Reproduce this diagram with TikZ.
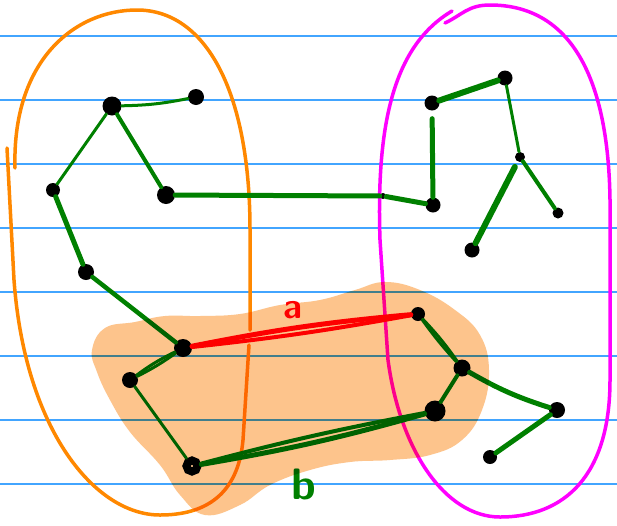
\documentclass[tikz,border=0pt]{standalone}
\usepackage{tikz}
\usetikzlibrary{positioning}
\definecolor{ruleblue}{RGB}{66,165,255}
\definecolor{penorange}{RGB}{255,136,0}
\definecolor{penmagenta}{RGB}{255,0,255}
\definecolor{pengreen}{RGB}{0,128,0}
\definecolor{penred}{RGB}{255,0,0}
\definecolor{blobfill}{RGB}{253,196,140}

\begin{document}
\begin{tikzpicture}[x=1pt, y=-1pt,
    vtx/.style={circle, fill=black, inner sep=0pt, minimum size=#1},
    vtx/.default=14pt,
    ring/.style={circle, draw=black, fill=white, line width=8pt, inner sep=0pt, minimum size=11pt},
    gedge/.style={draw=pengreen, line width=#1, line cap=round},
    gedge/.default=4pt,
    redge/.style={draw=penred, line width=#1, line cap=round},
    ruling/.style={draw=ruleblue, line width=1.3pt},
    loop/.style={draw=#1, line width=3.5pt, line cap=round},
    lbl/.style={text=#1, font=\fontsize{36}{36}\selectfont\sffamily\bfseries, inner sep=0pt},
]
\useasboundingbox[fill=white] (0,0) rectangle (617,525);

% paper
\foreach \y in {36,100,...,484}
  \draw[ruling] (0,\y) -- (617,\y);

% the two groups
\draw[loop=penorange] (15,168) .. controls (12,60) and (75,10) .. (137,10)
  .. controls (205,10) and (250,90) .. (250,230) -- (250,330);
\draw[loop=penorange] (249,345) -- (243,440) .. controls (238,495) and (205,515) .. (160,515)
  .. controls (95,515) and (25,430) .. (14,280) -- (7,148);
\draw[loop=penmagenta] (445,23) .. controls (462,15) and (468,5) .. (490,5)
  .. controls (560,5) and (608,60) .. (610,200) -- (610,380)
  .. controls (610,475) and (565,517) .. (500,517)
  .. controls (445,517) and (400,450) .. (388,360) -- (380,240)
  .. controls (376,120) and (395,45) .. (452,11);

% vertices
\node[vtx=19pt] (a) at (112,106) {};
\node[vtx=16pt] (b) at (196,97) {};
\node[vtx=14pt] (c) at (53,190) {};
\node[vtx=18pt] (d) at (166,195) {};
\node[vtx=16pt] (e) at (86,272) {};
\node[vtx=18pt] (f) at (183,348) {};
\node[vtx=16pt] (g) at (130,380) {};
\node[ring] (h) at (192,466) {};
\node[vtx=6pt] (x) at (383,196) {};
\node[vtx=15pt] (n) at (433,205) {};
\node[vtx=15pt] (i) at (432,103) {};
\node[vtx=15pt] (j) at (505,78) {};
\node[vtx=10pt] (k) at (520,157) {};
\node[vtx=11pt] (l) at (558,213) {};
\node[vtx=15pt] (m) at (472,250) {};
\node[vtx=14pt] (o) at (418,314) {};
\node[vtx=17pt] (p) at (462,368) {};
\node[vtx=21pt] (q) at (435,411) {};
\node[vtx=16pt] (r) at (557,410) {};
\node[vtx=14pt] (s) at (490,457) {};

% edges
\draw[gedge=3pt] (a) to[bend right=5] (b);
\draw[gedge=3pt] (a) -- (c);
\draw[gedge=4pt] (a) -- (d);
\draw[gedge=5pt] (c) -- (e);
\draw[gedge=4.5pt] (e) -- (f);
\draw[gedge=3pt] (f) to[bend right=5] (g);
\draw[gedge=3pt] (f) to[bend left=4] (g);
\draw[gedge=3pt] (g) -- (h);
\draw[gedge=5pt] (d) -- (x) -- (n);
\draw[gedge=5pt, shorten >=8pt] (n) -- (i);
\draw[gedge=6pt] (i) -- (j);
\draw[gedge=3pt] (j) -- (k);
\draw[gedge=4pt] (k) -- (l);
\draw[gedge=6pt, shorten <=6pt] (k) -- (m);
\draw[redge=5pt] (f) to[bend left=3] (o);
\draw[redge=4pt] (f) to[bend right=2] (o);
\draw[gedge=3pt] (o) to[bend left=4] (p);
\draw[gedge=3pt] (o) to[bend right=3] (p);
\draw[gedge=4pt] (p) -- (q);
\draw[gedge=5pt] (p) to[bend right=6] (r);
\draw[gedge=5pt] (r) -- (s);
\draw[gedge=5pt] (h) to[bend right=3] (q);
\draw[gedge=4pt] (h) to[bend left=2] (q);

\node[lbl=penred] (la) at (293,310) {a};
\node[lbl=pengreen, font=\fontsize{44}{44}\selectfont\sffamily\bfseries] (lb) at (304,484) {b};

% highlighted cut
\fill[blobfill, blend mode=multiply] plot[smooth cycle, tension=0.7] coordinates {
  (92,350) (105,328) (135,322) (165,316) (200,316) (240,314) (280,305)
  (320,300) (355,290) (385,282) (420,290) (455,310) (480,335) (489,370)
  (482,410) (462,440) (430,455) (390,460) (350,462) (310,470) (270,485)
  (240,505) (205,515) (180,495) (160,465) (130,432) (110,400) (97,372)};
\end{tikzpicture}
\end{document}
